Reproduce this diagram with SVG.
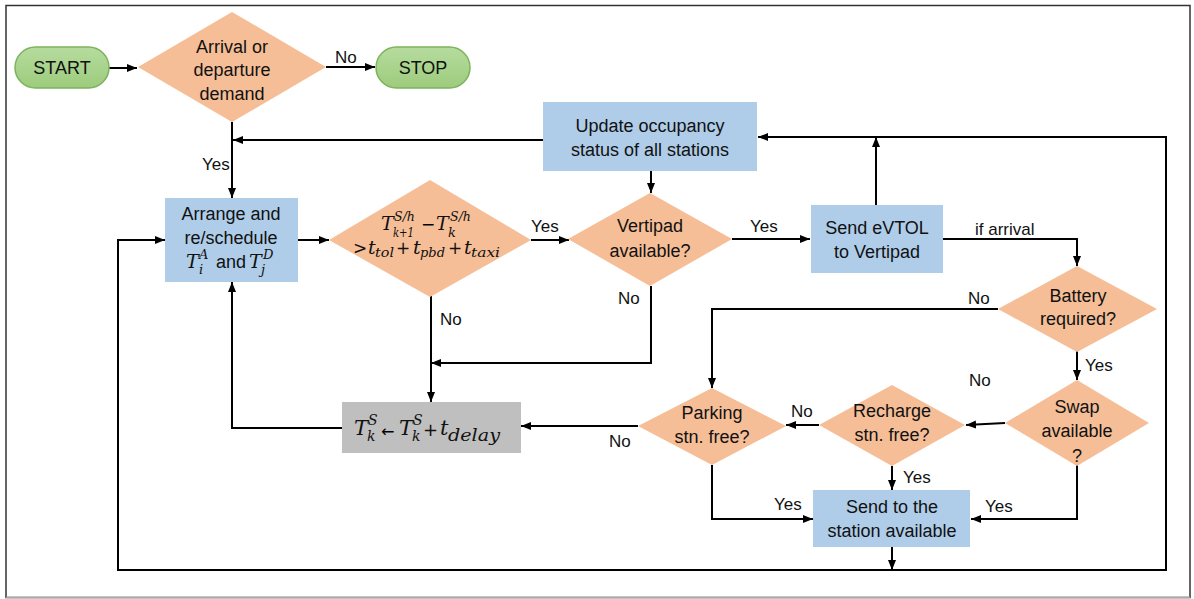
<svg xmlns="http://www.w3.org/2000/svg" width="1194" height="599" viewBox="0 0 1194 599">
<defs>
<linearGradient id="gr" x1="0" y1="0" x2="0" y2="1">
<stop offset="0" stop-color="#b6dc9e"/>
<stop offset="1" stop-color="#9dcb7c"/>
</linearGradient>
<marker id="ah" markerUnits="userSpaceOnUse" markerWidth="10" markerHeight="8" refX="10" refY="4" orient="auto">
<path d="M0,0 L10,4 L0,8 z" fill="#000"/>
</marker>
<style>
.t{font-family:"Liberation Sans",Arial,sans-serif;font-size:18px;fill:#111;text-anchor:middle}
.l{font-family:"Liberation Sans",Arial,sans-serif;font-size:17px;fill:#111}
.m{font-family:"DejaVu Serif","Liberation Serif",serif;font-style:italic;font-size:19px;fill:#111}
.s{font-size:13px}
.o{font-family:"DejaVu Sans","Liberation Sans",sans-serif;font-style:normal;font-size:17px}
.pill{fill:url(#gr);stroke:#7db35c;stroke-width:1.5}
.dia{fill:#f5be97}
.box{fill:#afcde9}
.gray{fill:#bfbfbf}
.c{fill:none;stroke:#000;stroke-width:2}
.a{marker-end:url(#ah)}
</style>
</defs>
<rect width="1194" height="599" fill="#fff"/>
<rect x="6" y="5.5" width="1184" height="592" fill="none" stroke="#333" stroke-width="1.5"/>
<line x1="6" y1="597.5" x2="1190" y2="597.5" stroke="#aaa" stroke-width="1.5"/>

<g id="connectors">
<path class="c a" d="M109,68 H137"/>
<path class="c a" d="M326,67 H375"/>
<path class="c a" d="M232,122 V198"/>
<path class="c a" d="M543,140 H233"/>
<path class="c a" d="M892,547 V570"/>
<path class="c a" d="M892,570 H1166 V137 H758"/>
<path class="c a" d="M892,570 H118 V240 H165"/>
<path class="c a" d="M651,171 V193"/>
<path class="c a" d="M298,240 H329"/>
<path class="c a" d="M531,240 H569"/>
<path class="c a" d="M732,239 H810"/>
<path class="c a" d="M876,205 V137"/>
<path class="c a" d="M943,239 H1077 V266"/>
<path class="c a" d="M998,309 H712 V388"/>
<path class="c a" d="M1077,351 V380"/>
<path class="c a" d="M1005,423 L966,425"/>
<path class="c a" d="M819,425 H786"/>
<path class="c a" d="M892,466 V490"/>
<path class="c a" d="M638,426 H521"/>
<path class="c a" d="M712,465 V519 H813"/>
<path class="c a" d="M1077,465 V519 H971"/>
<path class="c a" d="M431,296 V402"/>
<path class="c a" d="M651,286 V363 H431"/>
<path class="c a" d="M342,428 H232 V282"/>
<g class="l">
<text x="335" y="63">No</text>
<text x="202" y="170">Yes</text>
<text x="531" y="232">Yes</text>
<text x="750" y="232">Yes</text>
<text x="618" y="304">No</text>
<text x="440" y="325">No</text>
<text x="975" y="235">if arrival</text>
<text x="968" y="304">No</text>
<text x="1085" y="371">Yes</text>
<text x="969" y="386">No</text>
<text x="791" y="417">No</text>
<text x="903" y="483">Yes</text>
<text x="609" y="447">No</text>
<text x="774" y="510">Yes</text>
<text x="985" y="512">Yes</text>
</g>
</g>

<g id="start">
<rect class="pill" x="15" y="47" width="94" height="41" rx="20.5"/>
<text class="t" x="62" y="74">START</text>
</g>
<g id="stop">
<rect class="pill" x="376" y="47" width="94" height="41" rx="20.5"/>
<text class="t" x="423" y="74">STOP</text>
</g>
<g id="demand">
<polygon class="dia" points="232,12 326,67 232,122 138,67"/>
<text class="t" x="232" y="53">Arrival or</text>
<text class="t" x="232" y="76">departure</text>
<text class="t" x="232" y="100">demand</text>
</g>
<g id="update">
<rect class="box" x="543" y="102" width="214" height="69"/>
<text class="t" x="650" y="132">Update occupancy</text>
<text class="t" x="650" y="156">status of all stations</text>
</g>
<g id="arrange">
<rect class="box" x="165" y="198" width="133" height="84"/>
<text class="t" x="231" y="220">Arrange and</text>
<text class="t" x="231" y="244">re/schedule</text>
<text class="m"><tspan x="186" y="268">T</tspan><tspan class="s" x="199" y="259">A</tspan></text>
<text class="m s" x="199" y="274">i</text>
<text class="t" x="231" y="268">and</text>
<text class="m"><tspan x="249" y="268">T</tspan><tspan class="s" x="263" y="259">D</tspan></text>
<text class="m s" x="261" y="274">j</text>
</g>
<g id="check">
<polygon class="dia" points="430,180 531,240 430,297 329,240"/>
<text class="m"><tspan x="381" y="230">T</tspan><tspan class="s" x="394" y="221" textLength="21" lengthAdjust="spacingAndGlyphs">S/h</tspan></text>
<text class="m s" x="393" y="237" textLength="21" lengthAdjust="spacingAndGlyphs">k+1</text>
<text class="o" x="421" y="230">−</text>
<text class="m"><tspan x="436" y="230">T</tspan><tspan class="s" x="450" y="221" textLength="21" lengthAdjust="spacingAndGlyphs">S/h</tspan></text>
<text class="m s" x="448" y="237">k</text>
<text class="m"><tspan class="o" x="353" y="254">&gt;</tspan><tspan x="368" y="254">t</tspan><tspan class="s" x="375" y="257" textLength="19" lengthAdjust="spacingAndGlyphs">tol</tspan><tspan class="o" x="396" y="254">+</tspan><tspan x="413" y="254">t</tspan><tspan class="s" x="420" y="257" textLength="25" lengthAdjust="spacingAndGlyphs">pbd</tspan><tspan class="o" x="448" y="254">+</tspan><tspan x="464" y="254">t</tspan><tspan class="s" x="471" y="257" textLength="29" lengthAdjust="spacingAndGlyphs">taxi</tspan></text>
</g>
<g id="vertipad">
<polygon class="dia" points="650,193 732,239 650,286 568,239"/>
<text class="t" x="650" y="232">Vertipad</text>
<text class="t" x="650" y="257">available?</text>
</g>
<g id="send-evtol">
<rect class="box" x="811" y="205" width="132" height="68"/>
<text class="t" x="877" y="234">Send eVTOL</text>
<text class="t" x="877" y="258">to Vertipad</text>
</g>
<g id="battery">
<polygon class="dia" points="1077,266 1157,309 1077,352 998,309"/>
<text class="t" x="1078" y="302">Battery</text>
<text class="t" x="1078" y="325">required?</text>
</g>
<g id="swap">
<polygon class="dia" points="1077,380 1149,423 1077,466 1005,423"/>
<text class="t" x="1077" y="413">Swap</text>
<text class="t" x="1077" y="437">available</text>
<text class="t" x="1077" y="462">?</text>
</g>
<g id="recharge">
<polygon class="dia" points="892,385 965,425 892,466 819,425"/>
<text class="t" x="892" y="417">Recharge</text>
<text class="t" x="892" y="441">stn. free?</text>
</g>
<g id="parking">
<polygon class="dia" points="712,388 786,426 712,465 638,426"/>
<text class="t" x="712" y="419">Parking</text>
<text class="t" x="712" y="443">stn. free?</text>
</g>
<g id="send-station">
<rect class="box" x="813" y="490" width="157" height="57"/>
<text class="t" x="892" y="513">Send to the</text>
<text class="t" x="892" y="537">station available</text>
</g>
<g id="delay">
<rect class="gray" x="342" y="402" width="179" height="51"/>
<text class="m" style="font-size:21px"><tspan x="354" y="435">T</tspan><tspan class="s" x="368" y="425" style="font-size:14px">S</tspan></text>
<text class="m s" x="367" y="441" style="font-size:14px">k</text>
<text class="o" x="381" y="437" style="font-size:16px">←</text>
<text class="m" style="font-size:21px"><tspan x="399" y="435">T</tspan><tspan class="s" x="413" y="425" style="font-size:14px">S</tspan></text>
<text class="m s" x="412" y="441" style="font-size:14px">k</text>
<text class="m" style="font-size:21px"><tspan class="o" x="423" y="436" style="font-size:18px">+</tspan><tspan x="440" y="435">t</tspan><tspan class="s" x="448" y="441" style="font-size:16px" textLength="52" lengthAdjust="spacingAndGlyphs">delay</tspan></text>
</g>
</svg>
